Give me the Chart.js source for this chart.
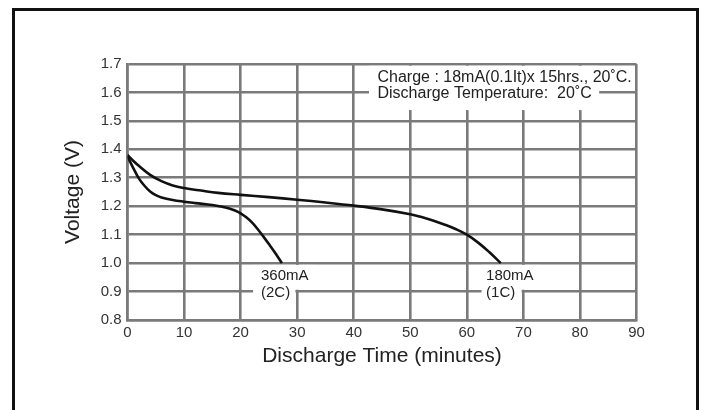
<!DOCTYPE html>
<html>
<head>
<meta charset="utf-8">
<script src="https://cdn.jsdelivr.net/npm/chart.js@4.4.1/dist/chart.umd.min.js"></script>
<style>
  html, body { margin: 0; padding: 0; background: #fff; }
  #wrap { position: relative; width: 702px; height: 410px; }
</style>
</head>
<body>
<div id="wrap"><canvas id="c" width="702" height="410"></canvas></div>
<script>
// Discharge curves at 2C and 1C, voltage vs time

const xTicks = [0, 10, 20, 30, 40, 50, 60, 70, 80, 90];
const yTicks = [0.8, 0.9, 1.0, 1.1, 1.2, 1.3, 1.4, 1.5, 1.6, 1.7];

// 360mA (2C)
const time2C = [0, 1, 2, 3, 4, 5, 6, 8, 10, 12, 15, 16.5, 18, 19, 20, 21, 22, 23, 24, 25, 26, 27.3];
const volt2C = [1.375, 1.335, 1.298, 1.272, 1.252, 1.239, 1.231, 1.222, 1.216, 1.211, 1.204, 1.199,
                1.192, 1.185, 1.175, 1.161, 1.143, 1.12, 1.094, 1.067, 1.039, 1.0];

// 180mA (1C)
const time1C = [0, 1, 2, 4, 6, 8, 10, 13, 16, 20, 25, 30, 35, 40, 45, 50, 52, 54, 56, 58, 60, 62, 64, 66];
const volt1C = [1.38, 1.36, 1.342, 1.31, 1.288, 1.273, 1.264, 1.255, 1.247, 1.24, 1.232, 1.223, 1.213,
                1.202, 1.189, 1.172, 1.162, 1.15, 1.136, 1.12, 1.10, 1.072, 1.038, 1.0];

const curveNames = [['360mA', '(2C)'], ['180mA', '(1C)']];
const noteLines = ['Charge : 18mA(0.1It)x 15hrs., 20˚C.', 'Discharge Temperature:  20˚C'];

// where the texts sit, in axis units
const noteAt = { x: 44.2, y: [1.638, 1.579], box: [42.7, 83.4, 1.538] };
const labelAt = [
    { x: 23.6, box: [22.2, 33], corner: 30 },
    { x: 63.4, box: [62.6, 73], corner: 70 }
];
const labelRows = [0.942, 0.882];

const GRID = '#7a7a7a';
const GW = 2.6;
const FONT = '"Liberation Sans", Arial, Helvetica, sans-serif';
Chart.defaults.font.family = FONT;

function pts(xs, ys) {
    return xs.map(function (t, i) { return { x: t, y: ys[i] }; });
}

const notesPlugin = {
    id: 'notes',
    beforeDatasetsDraw: function (chart) {
        const ctx = chart.ctx;
        const px = function (v) { return chart.scales.x.getPixelForValue(v); };
        const py = function (v) { return chart.scales.y.getPixelForValue(v); };
        const hw = GW / 2 + 0.5;
        ctx.save();
        ctx.fillStyle = '#fff';
        // box behind the test conditions
        ctx.fillRect(px(noteAt.box[0]), py(1.7) + hw,
            px(noteAt.box[1]) - px(noteAt.box[0]), py(noteAt.box[2]) - py(1.7) - hw);
        // boxes behind the curve names
        labelAt.forEach(function (l) {
            ctx.fillRect(px(l.box[0]), py(1.0) + hw, px(l.box[1]) - px(l.box[0]),
                py(0.9) - py(1.0) - 2 * hw);
            ctx.fillRect(px(l.box[0]), py(0.9) - hw, px(l.corner) - hw - px(l.box[0]), 2 * hw);
        });
        ctx.fillStyle = '#222';
        ctx.textBaseline = 'alphabetic';
        ctx.textAlign = 'left';
        ctx.font = '16px ' + FONT;
        noteLines.forEach(function (s, i) {
            ctx.fillText(s, px(noteAt.x), py(noteAt.y[i]));
        });
        ctx.font = '15px ' + FONT;
        labelAt.forEach(function (l, k) {
            curveNames[k].forEach(function (s, i) {
                ctx.fillText(s, px(l.x), py(labelRows[i]));
            });
        });
        ctx.restore();
    },
    afterDraw: function (chart) {
        // outer frame, open at the bottom
        const ctx = chart.ctx;
        ctx.save();
        ctx.strokeStyle = '#111';
        ctx.lineWidth = 3;
        ctx.beginPath();
        ctx.moveTo(13.5, 430);
        ctx.lineTo(13.5, 9.5);
        ctx.lineTo(697.5, 9.5);
        ctx.lineTo(697.5, 430);
        ctx.stroke();
        ctx.restore();
    }
};

const lineStyle = {
    borderColor: '#111',
    borderWidth: 2.6,
    pointRadius: 0,
    fill: false,
    tension: 0.4
};

new Chart(document.getElementById('c'), {
    type: 'line',
    data: {
        datasets: [
            Object.assign({ label: curveNames[0].join(' '), data: pts(time2C, volt2C) }, lineStyle),
            Object.assign({ label: curveNames[1].join(' '), data: pts(time1C, volt1C) }, lineStyle)
        ]
    },
    options: {
        responsive: false,
        animation: false,
        events: [],
        layout: { padding: { top: 64, right: 65.5, left: 0, bottom: 0 } },
        plugins: { legend: { display: false }, tooltip: { enabled: false } },
        scales: {
            x: {
                type: 'linear',
                min: 0, max: 90,
                afterBuildTicks: function (s) { s.ticks = xTicks.map(function (v) { return { value: v }; }); },
                afterFit: function (s) { s.height = 90; },
                grid: { color: GRID, lineWidth: GW, drawTicks: false },
                border: { color: GRID, width: GW },
                ticks: { font: { size: 15 }, color: '#333', padding: 4, autoSkip: false, maxRotation: 0 },
                title: { display: true, text: 'Discharge Time (minutes)', color: '#222',
                         font: { size: 21 }, padding: { top: 0, bottom: 41 } }
            },
            y: {
                type: 'linear',
                min: 0.8, max: 1.7,
                afterBuildTicks: function (s) { s.ticks = yTicks.map(function (v) { return { value: v }; }); },
                afterFit: function (s) { s.width = 127.5; },
                grid: { color: GRID, lineWidth: GW, drawTicks: false },
                border: { color: GRID, width: GW },
                ticks: { font: { size: 15 }, color: '#333', padding: 6, autoSkip: false,
                         callback: function (v) { return Number(v).toFixed(1); } },
                title: { display: true, text: 'Voltage (V)', color: '#222',
                         font: { size: 21 }, padding: { top: 61, bottom: 0 } }
            }
        }
    },
    plugins: [notesPlugin]
});
</script>
</body>
</html>
